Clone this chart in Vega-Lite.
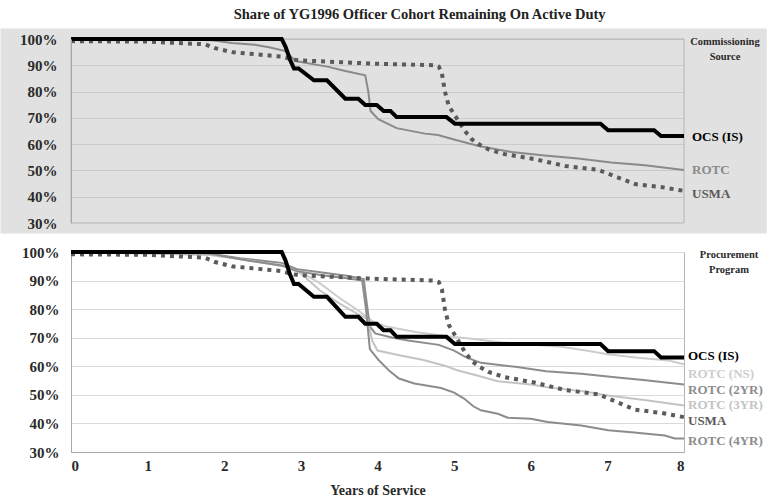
{
  "$schema": "https://vega.github.io/schema/vega-lite/v6.json",
  "padding": {"left": 0, "top": 6, "right": 0, "bottom": 0},
  "background": "white",
  "title": {"text": "Share of YG1996 Officer Cohort Remaining On Active Duty", "font": "Liberation Serif", "fontSize": 14.5, "fontWeight": "bold", "color": "#222", "anchor": "middle", "dx": 36, "offset": 6},
  "config": {
    "font": "Liberation Serif",
    "concat": {"spacing": 9},
    "view": {"stroke": "#b4b4b4"}
  },
  "datasets": {
    "one": [{"k": 1}],
    "ocs": [
      {"series": "OCS (IS)", "year": 0, "value": 1.0},
      {"series": "OCS (IS)", "year": 2.75, "value": 1.0},
      {"series": "OCS (IS)", "year": 2.8, "value": 0.97},
      {"series": "OCS (IS)", "year": 2.86, "value": 0.92},
      {"series": "OCS (IS)", "year": 2.91, "value": 0.888},
      {"series": "OCS (IS)", "year": 2.97, "value": 0.888},
      {"series": "OCS (IS)", "year": 3.17, "value": 0.843},
      {"series": "OCS (IS)", "year": 3.34, "value": 0.843},
      {"series": "OCS (IS)", "year": 3.58, "value": 0.773},
      {"series": "OCS (IS)", "year": 3.75, "value": 0.773},
      {"series": "OCS (IS)", "year": 3.84, "value": 0.749},
      {"series": "OCS (IS)", "year": 3.99, "value": 0.749},
      {"series": "OCS (IS)", "year": 4.08, "value": 0.726},
      {"series": "OCS (IS)", "year": 4.17, "value": 0.726},
      {"series": "OCS (IS)", "year": 4.25, "value": 0.703},
      {"series": "OCS (IS)", "year": 4.9, "value": 0.703},
      {"series": "OCS (IS)", "year": 5.01, "value": 0.678},
      {"series": "OCS (IS)", "year": 6.91, "value": 0.678},
      {"series": "OCS (IS)", "year": 7.01, "value": 0.653},
      {"series": "OCS (IS)", "year": 7.61, "value": 0.653},
      {"series": "OCS (IS)", "year": 7.7, "value": 0.631},
      {"series": "OCS (IS)", "year": 8.0, "value": 0.631}
    ],
    "usma": [
      {"series": "USMA", "year": 0, "value": 0.992},
      {"series": "USMA", "year": 1.0, "value": 0.99},
      {"series": "USMA", "year": 1.75, "value": 0.98},
      {"series": "USMA", "year": 1.88, "value": 0.965},
      {"series": "USMA", "year": 2.1, "value": 0.95},
      {"series": "USMA", "year": 2.75, "value": 0.933},
      {"series": "USMA", "year": 2.88, "value": 0.923},
      {"series": "USMA", "year": 2.97, "value": 0.919},
      {"series": "USMA", "year": 3.88, "value": 0.907},
      {"series": "USMA", "year": 4.75, "value": 0.9},
      {"series": "USMA", "year": 4.8, "value": 0.895},
      {"series": "USMA", "year": 4.84, "value": 0.87},
      {"series": "USMA", "year": 4.88, "value": 0.8},
      {"series": "USMA", "year": 4.93, "value": 0.745},
      {"series": "USMA", "year": 5.03, "value": 0.7},
      {"series": "USMA", "year": 5.14, "value": 0.65},
      {"series": "USMA", "year": 5.23, "value": 0.619},
      {"series": "USMA", "year": 5.32, "value": 0.6},
      {"series": "USMA", "year": 5.45, "value": 0.58},
      {"series": "USMA", "year": 5.66, "value": 0.562},
      {"series": "USMA", "year": 6.05, "value": 0.543},
      {"series": "USMA", "year": 6.45, "value": 0.517},
      {"series": "USMA", "year": 6.88, "value": 0.502},
      {"series": "USMA", "year": 7.14, "value": 0.473},
      {"series": "USMA", "year": 7.36, "value": 0.448},
      {"series": "USMA", "year": 7.7, "value": 0.437},
      {"series": "USMA", "year": 8.0, "value": 0.422}
    ],
    "rotc": [
      {"series": "ROTC", "year": 0, "value": 1.0},
      {"series": "ROTC", "year": 1.5, "value": 0.998},
      {"series": "ROTC", "year": 1.84, "value": 0.995},
      {"series": "ROTC", "year": 2.1, "value": 0.985},
      {"series": "ROTC", "year": 2.4, "value": 0.978},
      {"series": "ROTC", "year": 2.6, "value": 0.968},
      {"series": "ROTC", "year": 2.8, "value": 0.954},
      {"series": "ROTC", "year": 2.93, "value": 0.916},
      {"series": "ROTC", "year": 3.36, "value": 0.894},
      {"series": "ROTC", "year": 3.58, "value": 0.878},
      {"series": "ROTC", "year": 3.84, "value": 0.862},
      {"series": "ROTC", "year": 3.88, "value": 0.8},
      {"series": "ROTC", "year": 3.91, "value": 0.726},
      {"series": "ROTC", "year": 4.01, "value": 0.695},
      {"series": "ROTC", "year": 4.25, "value": 0.661},
      {"series": "ROTC", "year": 4.62, "value": 0.64},
      {"series": "ROTC", "year": 4.79, "value": 0.635},
      {"series": "ROTC", "year": 5.01, "value": 0.617},
      {"series": "ROTC", "year": 5.32, "value": 0.593},
      {"series": "ROTC", "year": 5.75, "value": 0.57},
      {"series": "ROTC", "year": 6.18, "value": 0.557},
      {"series": "ROTC", "year": 6.62, "value": 0.545},
      {"series": "ROTC", "year": 7.05, "value": 0.53},
      {"series": "ROTC", "year": 7.49, "value": 0.52},
      {"series": "ROTC", "year": 8.0, "value": 0.502}
    ],
    "sub": [
      {"series": "ROTC (NS)", "year": 0, "value": 1.0},
      {"series": "ROTC (NS)", "year": 1.8, "value": 0.99},
      {"series": "ROTC (NS)", "year": 2.4, "value": 0.97},
      {"series": "ROTC (NS)", "year": 2.8, "value": 0.95},
      {"series": "ROTC (NS)", "year": 3.0, "value": 0.93},
      {"series": "ROTC (NS)", "year": 3.25, "value": 0.89},
      {"series": "ROTC (NS)", "year": 3.5, "value": 0.84},
      {"series": "ROTC (NS)", "year": 3.75, "value": 0.795},
      {"series": "ROTC (NS)", "year": 3.95, "value": 0.755},
      {"series": "ROTC (NS)", "year": 4.1, "value": 0.74},
      {"series": "ROTC (NS)", "year": 4.5, "value": 0.72},
      {"series": "ROTC (NS)", "year": 4.9, "value": 0.705},
      {"series": "ROTC (NS)", "year": 5.2, "value": 0.697},
      {"series": "ROTC (NS)", "year": 5.6, "value": 0.684},
      {"series": "ROTC (NS)", "year": 6.0, "value": 0.676},
      {"series": "ROTC (NS)", "year": 6.4, "value": 0.668},
      {"series": "ROTC (NS)", "year": 6.8, "value": 0.652},
      {"series": "ROTC (NS)", "year": 7.0, "value": 0.642},
      {"series": "ROTC (NS)", "year": 7.4, "value": 0.63},
      {"series": "ROTC (NS)", "year": 7.8, "value": 0.62},
      {"series": "ROTC (NS)", "year": 8.0, "value": 0.607},
      {"series": "ROTC (2YR)", "year": 0, "value": 1.0},
      {"series": "ROTC (2YR)", "year": 1.8, "value": 0.995},
      {"series": "ROTC (2YR)", "year": 2.2, "value": 0.978},
      {"series": "ROTC (2YR)", "year": 2.75, "value": 0.962},
      {"series": "ROTC (2YR)", "year": 2.95, "value": 0.94},
      {"series": "ROTC (2YR)", "year": 3.3, "value": 0.927},
      {"series": "ROTC (2YR)", "year": 3.6, "value": 0.917},
      {"series": "ROTC (2YR)", "year": 3.82, "value": 0.905},
      {"series": "ROTC (2YR)", "year": 3.86, "value": 0.82},
      {"series": "ROTC (2YR)", "year": 3.9, "value": 0.74},
      {"series": "ROTC (2YR)", "year": 3.97, "value": 0.715},
      {"series": "ROTC (2YR)", "year": 4.2, "value": 0.7},
      {"series": "ROTC (2YR)", "year": 4.4, "value": 0.69},
      {"series": "ROTC (2YR)", "year": 4.8, "value": 0.675},
      {"series": "ROTC (2YR)", "year": 5.0, "value": 0.655},
      {"series": "ROTC (2YR)", "year": 5.15, "value": 0.632},
      {"series": "ROTC (2YR)", "year": 5.35, "value": 0.612},
      {"series": "ROTC (2YR)", "year": 5.8, "value": 0.598},
      {"series": "ROTC (2YR)", "year": 6.2, "value": 0.583},
      {"series": "ROTC (2YR)", "year": 6.66, "value": 0.574},
      {"series": "ROTC (2YR)", "year": 7.1, "value": 0.562},
      {"series": "ROTC (2YR)", "year": 7.5, "value": 0.551},
      {"series": "ROTC (2YR)", "year": 8.0, "value": 0.536},
      {"series": "ROTC (3YR)", "year": 0, "value": 1.0},
      {"series": "ROTC (3YR)", "year": 1.8, "value": 0.99},
      {"series": "ROTC (3YR)", "year": 2.4, "value": 0.968},
      {"series": "ROTC (3YR)", "year": 2.8, "value": 0.948},
      {"series": "ROTC (3YR)", "year": 3.0, "value": 0.925},
      {"series": "ROTC (3YR)", "year": 3.25, "value": 0.865},
      {"series": "ROTC (3YR)", "year": 3.5, "value": 0.82},
      {"series": "ROTC (3YR)", "year": 3.75, "value": 0.782},
      {"series": "ROTC (3YR)", "year": 3.87, "value": 0.765},
      {"series": "ROTC (3YR)", "year": 3.93, "value": 0.69},
      {"series": "ROTC (3YR)", "year": 4.0, "value": 0.655},
      {"series": "ROTC (3YR)", "year": 4.3, "value": 0.638},
      {"series": "ROTC (3YR)", "year": 4.6, "value": 0.622},
      {"series": "ROTC (3YR)", "year": 4.9, "value": 0.6},
      {"series": "ROTC (3YR)", "year": 5.05, "value": 0.585},
      {"series": "ROTC (3YR)", "year": 5.3, "value": 0.568},
      {"series": "ROTC (3YR)", "year": 5.57, "value": 0.548},
      {"series": "ROTC (3YR)", "year": 6.0, "value": 0.536},
      {"series": "ROTC (3YR)", "year": 6.22, "value": 0.527},
      {"series": "ROTC (3YR)", "year": 6.7, "value": 0.512},
      {"series": "ROTC (3YR)", "year": 7.01, "value": 0.498},
      {"series": "ROTC (3YR)", "year": 7.53, "value": 0.48},
      {"series": "ROTC (3YR)", "year": 8.0, "value": 0.463},
      {"series": "ROTC (4YR)", "year": 0, "value": 1.0},
      {"series": "ROTC (4YR)", "year": 1.8, "value": 0.995},
      {"series": "ROTC (4YR)", "year": 2.3, "value": 0.97},
      {"series": "ROTC (4YR)", "year": 2.75, "value": 0.953},
      {"series": "ROTC (4YR)", "year": 2.95, "value": 0.933},
      {"series": "ROTC (4YR)", "year": 3.3, "value": 0.918},
      {"series": "ROTC (4YR)", "year": 3.6, "value": 0.908},
      {"series": "ROTC (4YR)", "year": 3.8, "value": 0.9},
      {"series": "ROTC (4YR)", "year": 3.85, "value": 0.8},
      {"series": "ROTC (4YR)", "year": 3.9, "value": 0.66},
      {"series": "ROTC (4YR)", "year": 4.02, "value": 0.62},
      {"series": "ROTC (4YR)", "year": 4.15, "value": 0.585},
      {"series": "ROTC (4YR)", "year": 4.28, "value": 0.557},
      {"series": "ROTC (4YR)", "year": 4.48, "value": 0.54},
      {"series": "ROTC (4YR)", "year": 4.83, "value": 0.524},
      {"series": "ROTC (4YR)", "year": 5.0, "value": 0.508},
      {"series": "ROTC (4YR)", "year": 5.13, "value": 0.487},
      {"series": "ROTC (4YR)", "year": 5.25, "value": 0.46},
      {"series": "ROTC (4YR)", "year": 5.35, "value": 0.446},
      {"series": "ROTC (4YR)", "year": 5.57, "value": 0.434},
      {"series": "ROTC (4YR)", "year": 5.7, "value": 0.42},
      {"series": "ROTC (4YR)", "year": 6.0, "value": 0.416},
      {"series": "ROTC (4YR)", "year": 6.22, "value": 0.405},
      {"series": "ROTC (4YR)", "year": 6.66, "value": 0.393},
      {"series": "ROTC (4YR)", "year": 7.01, "value": 0.376},
      {"series": "ROTC (4YR)", "year": 7.35, "value": 0.368},
      {"series": "ROTC (4YR)", "year": 7.75, "value": 0.358},
      {"series": "ROTC (4YR)", "year": 7.88, "value": 0.347},
      {"series": "ROTC (4YR)", "year": 8.0, "value": 0.347}
    ],
    "lab_top": [
      {"series": "OCS (IS)", "pos": 0.628},
      {"series": "ROTC", "pos": 0.502},
      {"series": "USMA", "pos": 0.41}
    ],
    "lab_bot": [
      {"series": "OCS (IS)", "pos": 0.636},
      {"series": "ROTC (NS)", "pos": 0.574},
      {"series": "ROTC (2YR)", "pos": 0.516},
      {"series": "ROTC (3YR)", "pos": 0.463},
      {"series": "USMA", "pos": 0.41},
      {"series": "ROTC (4YR)", "pos": 0.34}
    ]
  },
  "resolve": {"scale": {"x": "independent", "y": "independent", "color": "independent"}},
  "vconcat": [
    {
      "width": 613,
      "height": 184,
      "view": {"fill": "#e1e1e1", "stroke": null},
      "resolve": {"axis": {"y": "independent"}},
      "layer": [
        {"data": {"name": "one"}, "mark": {"type": "rect", "color": "#e1e1e1"},
         "encoding": {
           "x": {"datum": -0.92, "type": "quantitative", "scale": {"domain": [0, 8], "nice": false, "zero": false}, "axis": null},
           "x2": {"datum": 0},
           "y": {"datum": 1.04, "type": "quantitative", "scale": {"domain": [0.3, 1.0], "nice": false, "zero": false}, "axis": null},
           "y2": {"datum": 0.26}}},
        {"data": {"name": "one"}, "mark": {"type": "rect", "color": "#e1e1e1"},
         "encoding": {
           "x": {"datum": 8, "type": "quantitative", "scale": {"domain": [0, 8], "nice": false, "zero": false}, "axis": null},
           "x2": {"datum": 9.08},
           "y": {"datum": 1.04, "type": "quantitative", "scale": {"domain": [0.3, 1.0], "nice": false, "zero": false}, "axis": null},
           "y2": {"datum": 0.26}}},
        {"data": {"name": "one"}, "mark": {"type": "rect", "color": "#e1e1e1"},
         "encoding": {
           "x": {"datum": 0, "type": "quantitative", "scale": {"domain": [0, 8], "nice": false, "zero": false}, "axis": null},
           "x2": {"datum": 8},
           "y": {"datum": 1.04, "type": "quantitative", "scale": {"domain": [0.3, 1.0], "nice": false, "zero": false}, "axis": null},
           "y2": {"datum": 1.0}}},
        {"data": {"name": "one"}, "mark": {"type": "rect", "color": "#e1e1e1"},
         "encoding": {
           "x": {"datum": 0, "type": "quantitative", "scale": {"domain": [0, 8], "nice": false, "zero": false}, "axis": null},
           "x2": {"datum": 8},
           "y": {"datum": 0.3, "type": "quantitative", "scale": {"domain": [0.3, 1.0], "nice": false, "zero": false}, "axis": null},
           "y2": {"datum": 0.26}}},
        {"data": {"name": "one"}, "mark": {"type": "rect", "filled": false, "color": "#b4b4b4", "strokeWidth": 1},
         "encoding": {
           "x": {"datum": 0, "type": "quantitative", "scale": {"domain": [0, 8], "nice": false, "zero": false}, "axis": null},
           "x2": {"datum": 8},
           "y": {"datum": 0.3, "type": "quantitative", "scale": {"domain": [0.3, 1.0], "nice": false, "zero": false},
                 "axis": {"values": [0.3, 0.4, 0.5, 0.6, 0.7, 0.8, 0.9, 1.0], "format": ".0%", "title": null, "orient": "left", "labelFont": "Liberation Serif", "labelFontSize": 15, "labelFontWeight": "bold", "labelColor": "#2a2a2a", "labelOverlap": false, "ticks": false, "labelPadding": 14, "domainColor": "#a8a8a8", "grid": false, "zindex": 1}},
           "y2": {"datum": 1.0}}},
        {
          "encoding": {
            "x": {"field": "year", "type": "quantitative", "scale": {"domain": [0, 8], "nice": false, "zero": false}, "axis": null},
            "y": {"field": "value", "type": "quantitative", "scale": {"domain": [0.3, 1.0], "nice": false, "zero": false},
                  "axis": {"values": [0.3, 0.4, 0.5, 0.6, 0.7, 0.8, 0.9, 1.0], "title": null, "orient": "left", "labels": false, "ticks": false, "domain": false, "grid": true, "gridColor": "#cacaca", "zindex": 0}},
            "color": {"field": "series", "type": "nominal", "legend": null,
                      "scale": {"domain": ["OCS (IS)", "ROTC", "USMA"], "range": ["#000000", "#8a8a8a", "#5a5a5a"]}}
          },
          "layer": [
            {"data": {"name": "rotc"}, "mark": {"type": "line", "strokeWidth": 2}},
            {"data": {"name": "usma"}, "mark": {"type": "line", "strokeWidth": 4, "strokeDash": [4, 5]}},
            {"data": {"name": "ocs"}, "mark": {"type": "line", "strokeWidth": 4}}
          ]
        },
        {"data": {"name": "lab_top"},
         "mark": {"type": "text", "align": "left", "baseline": "middle", "dx": 8, "font": "Liberation Serif", "fontSize": 13, "fontWeight": "bold"},
         "encoding": {
           "x": {"datum": 8, "type": "quantitative", "scale": {"domain": [0, 8], "nice": false, "zero": false}, "axis": null},
           "y": {"field": "pos", "type": "quantitative", "scale": {"domain": [0.3, 1.0], "nice": false, "zero": false}, "axis": null},
           "text": {"field": "series", "type": "nominal"},
           "color": {"field": "series", "type": "nominal", "legend": null,
                     "scale": {"domain": ["OCS (IS)", "ROTC", "USMA"], "range": ["#000000", "#8a8a8a", "#5a5a5a"]}}}},
        {"data": {"name": "one"},
         "mark": {"type": "text", "text": ["Commissioning", "Source"], "align": "center", "baseline": "top", "dx": 41, "dy": -2, "lineHeight": 15, "font": "Liberation Serif", "fontSize": 10.5, "fontWeight": "bold", "color": "#2a2a2a"},
         "encoding": {"x": {"datum": 8, "type": "quantitative", "scale": {"domain": [0, 8], "nice": false, "zero": false}, "axis": null}, "y": {"datum": 1.0, "type": "quantitative", "scale": {"domain": [0.3, 1.0], "nice": false, "zero": false}, "axis": null}}}
      ]
    },
    {
      "width": 613,
      "height": 200,
      "resolve": {"axis": {"x": "independent", "y": "independent"}},
      "layer": [
        {
          "encoding": {
            "x": {"field": "year", "type": "quantitative", "scale": {"domain": [0, 8], "nice": false, "zero": false},
                  "axis": {"values": [0, 1, 2, 3, 4, 5, 6, 7, 8], "format": "d", "orient": "bottom", "title": "Years of Service", "titleFont": "Liberation Serif", "titleFontSize": 14, "titleFontWeight": "bold", "titleColor": "#2a2a2a", "titlePadding": 10, "labelFont": "Liberation Serif", "labelFontSize": 15, "labelFontWeight": "bold", "labelColor": "#2a2a2a", "ticks": false, "labelPadding": 6, "grid": false, "domainColor": "#a8a8a8"}},
            "y": {"field": "value", "type": "quantitative", "scale": {"domain": [0.3, 1.0], "nice": false, "zero": false},
                  "axis": {"values": [0.3, 0.4, 0.5, 0.6, 0.7, 0.8, 0.9, 1.0], "format": ".0%", "orient": "left", "title": null, "labelFont": "Liberation Serif", "labelFontSize": 15, "labelFontWeight": "bold", "labelColor": "#2a2a2a", "labelOverlap": false, "ticks": false, "labelPadding": 12, "domainColor": "#a8a8a8", "gridColor": "#dadada"}},
            "color": {"field": "series", "type": "nominal", "legend": null,
                      "scale": {"domain": ["OCS (IS)", "USMA", "ROTC (NS)", "ROTC (2YR)", "ROTC (3YR)", "ROTC (4YR)"],
                                "range": ["#000000", "#5a5a5a", "#cdcdcd", "#8c8c8c", "#c4c4c4", "#8c8c8c"]}}
          },
          "layer": [
            {"data": {"name": "sub"}, "mark": {"type": "line", "strokeWidth": 2}},
            {"data": {"name": "usma"}, "mark": {"type": "line", "strokeWidth": 4, "strokeDash": [4, 5]}},
            {"data": {"name": "ocs"}, "mark": {"type": "line", "strokeWidth": 4}}
          ]
        },
        {"data": {"name": "lab_bot"},
         "mark": {"type": "text", "align": "left", "baseline": "middle", "dx": 4, "font": "Liberation Serif", "fontSize": 13, "fontWeight": "bold"},
         "encoding": {
           "x": {"datum": 8, "type": "quantitative", "scale": {"domain": [0, 8], "nice": false, "zero": false}, "axis": null},
           "y": {"field": "pos", "type": "quantitative", "scale": {"domain": [0.3, 1.0], "nice": false, "zero": false}, "axis": null},
           "text": {"field": "series", "type": "nominal"},
           "color": {"field": "series", "type": "nominal", "legend": null,
                     "scale": {"domain": ["OCS (IS)", "USMA", "ROTC (NS)", "ROTC (2YR)", "ROTC (3YR)", "ROTC (4YR)"],
                               "range": ["#000000", "#5a5a5a", "#cdcdcd", "#8c8c8c", "#c4c4c4", "#8c8c8c"]}}}},
        {"data": {"name": "one"},
         "mark": {"type": "text", "text": ["Procurement", "Program"], "align": "center", "baseline": "top", "dx": 45, "dy": -2, "lineHeight": 15, "font": "Liberation Serif", "fontSize": 10.5, "fontWeight": "bold", "color": "#2a2a2a"},
         "encoding": {"x": {"datum": 8, "type": "quantitative", "scale": {"domain": [0, 8], "nice": false, "zero": false}, "axis": null}, "y": {"datum": 1.0, "type": "quantitative", "scale": {"domain": [0.3, 1.0], "nice": false, "zero": false}, "axis": null}}}
      ]
    }
  ]
}
